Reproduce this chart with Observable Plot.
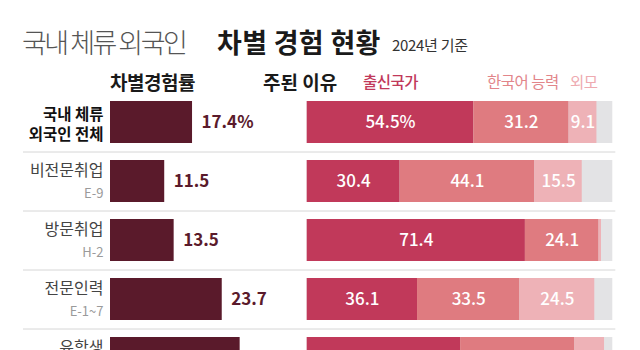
<!DOCTYPE html>
<html><head><meta charset="utf-8">
<script src="https://cdn.jsdelivr.net/npm/d3@7"></script>
<script src="https://cdn.jsdelivr.net/npm/@observablehq/plot@0.6"></script>
<style>
body{margin:0;background:#fff;font-family:"Noto Sans CJK KR","Noto Sans",sans-serif;}
#wrap{position:relative;width:640px;height:350px;overflow:hidden;background:#fff;}
.abs{position:absolute;white-space:nowrap;}
.light{font-family:"Noto Sans CJK KR Light","Noto Sans CJK KR DemiLight","Noto Sans CJK KR",sans-serif;}
</style></head><body>
<div id="wrap">
  <div id="left" class="abs" style="left:0;top:84px"></div>
  <div id="right" class="abs" style="left:300px;top:84px"></div>
  <div class="abs light" style="left:22px;top:28px;font-size:27px;line-height:27px;font-weight:300;color:#555;letter-spacing:-2.5px">국내 체류 외국인</div>
  <div class="abs" style="left:217px;top:28px;font-size:27px;line-height:27px;font-weight:700;color:#1a1a1a;letter-spacing:0.3px">차별 경험 현황</div>
  <div class="abs" style="left:392px;top:37px;font-size:15px;line-height:15px;font-weight:400;color:#333;letter-spacing:-0.3px">2024년 기준</div>
  <div class="abs" style="left:110px;top:72px;font-size:19px;line-height:19px;font-weight:700;color:#1a1a1a;letter-spacing:-0.5px">차별경험률</div>
  <div class="abs" style="left:263px;top:72px;font-size:19px;line-height:19px;font-weight:700;color:#1a1a1a;letter-spacing:0px">주된 이유</div>
  <div class="abs" style="left:363px;top:74px;font-size:15.5px;line-height:15.5px;font-weight:500;color:#c1395a;letter-spacing:-0.5px">출신국가</div>
  <div class="abs" style="left:487px;top:74px;font-size:15.5px;line-height:15.5px;font-weight:400;color:#e2858a;letter-spacing:-0.5px">한국어 능력</div>
  <div class="abs" style="left:570px;top:74px;font-size:15.5px;line-height:15.5px;font-weight:400;color:#eeaab0;letter-spacing:-0.5px">외모</div>
</div>
<script>
// ---- data ----
const categories = ["국내 체류 외국인 전체", "비전문취업", "방문취업", "전문인력", "유학생"];
const nameLines = ["국내 체류\n외국인 전체", "비전문취업", "방문취업", "전문인력", "유학생"];
const visaCodes = ["", "E-9", "H-2", "E-1~7", ""];
const discriminationRate = [17.4, 11.5, 13.5, 23.7, 27.5];
const reasons = ["출신 국가", "한국어 능력", "외모"];
const originShare = [54.5, 30.4, 71.4, 36.1, 50.2];
const languageShare = [31.2, 44.1, 24.1, 33.5, 37.4];
const appearanceShare = [9.1, 15.5, 0.8, 24.5, 9.7];
const totalShare = 100;

const font = '"Noto Sans CJK KR","Noto Sans",sans-serif';
const maroon = "#5a1a2b";
const reasonColors = ["#c1395a", "#df7b80", "#eeb2b7"];

const rows = categories.map((c, i) => ({cat: c, name: nameLines[i], code: visaCodes[i], rate: discriminationRate[i]}));
const shares = [originShare, languageShare, appearanceShare];
const long = [];
categories.forEach((c, i) => reasons.forEach((r, j) => long.push({cat: c, reason: r, value: shares[j][i], first: i === 0 && j === 0})));

const yScale = {domain: categories, axis: null, padding: 0.288};

const left = Plot.plot({
  width: 300, height: 312, marginLeft: 110, marginRight: 0, marginTop: 0, marginBottom: 0,
  style: {background: "transparent", fontFamily: font, overflow: "visible"},
  x: {domain: [0, 40.3], axis: null},
  y: yScale,
  marks: [
    Plot.ruleY(categories.slice(0, 4), {y: d => d, dy: 29.5, stroke: "#d6d6d6", insetLeft: -87}),
    Plot.barX(rows, {x: "rate", y: "cat", fill: maroon}),
    Plot.text(rows, {x: "rate", y: "cat", text: (d, i) => d.rate.toFixed(1) + (i === 0 ? "%" : ""), dx: 9, textAnchor: "start", fill: maroon, fontWeight: 700, fontSize: 17, letterSpacing: "-0.8px"}),
    Plot.text(rows.slice(0, 1), {y: "cat", text: "name", frameAnchor: "left", dx: -7, dy: 1, textAnchor: "end", fill: "#111", fontWeight: 700, fontSize: 15.5, lineHeight: 1.32, letterSpacing: "-0.5px"}),
    Plot.text(rows.slice(1), {y: "cat", text: "name", frameAnchor: "left", dx: -7, dy: -11, textAnchor: "end", fill: "#444", fontWeight: 400, fontSize: 16, letterSpacing: "-0.5px"}),
    Plot.text(rows.slice(1), {y: "cat", text: "code", frameAnchor: "left", dx: -7, dy: 12, textAnchor: "end", fill: "#9a9a9a", fontWeight: 400, fontSize: 13})
  ]
});
document.getElementById("left").append(left);

const right = Plot.plot({
  width: 340, height: 312, marginLeft: 6.7, marginRight: 27.7, marginTop: 0, marginBottom: 0,
  style: {background: "transparent", fontFamily: font, overflow: "visible"},
  x: {domain: [0, totalShare], axis: null},
  y: yScale,
  color: {domain: reasons, range: reasonColors},
  marks: [
    Plot.ruleY(categories.slice(0, 4), {y: d => d, dy: 29.5, stroke: "#d6d6d6", insetLeft: -6.7, insetRight: -3}),
    Plot.barX(categories, {x: totalShare, y: d => d, fill: "#e3e3e5"}),
    Plot.barX(long, Plot.stackX({x: "value", y: "cat", fill: "reason", order: reasons})),
    Plot.text(long, Plot.stackX({x: "value", y: "cat", z: "reason", order: reasons,
      text: d => d.value < 3 ? "" : d.value.toFixed(1) + (d.first ? "%" : ""),
      fill: "white", fontWeight: 500, fontSize: 17, letterSpacing: "-0.6px"}))
  ]
});
document.getElementById("right").append(right);
</script>
</body></html>
